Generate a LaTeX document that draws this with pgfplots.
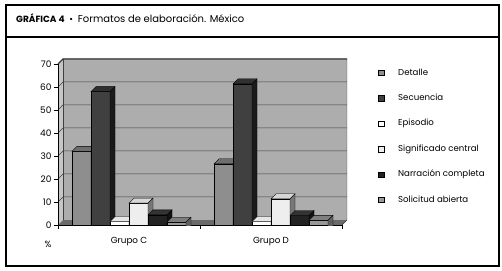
\documentclass[border=0pt]{standalone}
\usepackage{fontspec}
\setmainfont{Poppins}
\usepackage{pgfplots}
\pgfplotsset{compat=1.18}

\definecolor{wall}{HTML}{ADADAD}
\definecolor{lwall}{HTML}{C6C6C6}
\definecolor{floorc}{HTML}{6A6A6A}
\definecolor{gridc}{HTML}{404040}

\definecolor{detF}{HTML}{8E8E8E}\definecolor{detT}{HTML}{6E6E6E}\definecolor{detS}{HTML}{5A5A5A}
\definecolor{secF}{HTML}{404040}\definecolor{secT}{HTML}{303030}\definecolor{secS}{HTML}{1A1A1A}
\definecolor{epiF}{HTML}{FFFFFF}\definecolor{epiT}{HTML}{E6E6E6}\definecolor{epiS}{HTML}{9A9A9A}
\definecolor{sigF}{HTML}{EEEEEE}\definecolor{sigT}{HTML}{D6D6D6}\definecolor{sigS}{HTML}{777777}
\definecolor{narF}{HTML}{222222}\definecolor{narT}{HTML}{333333}\definecolor{narS}{HTML}{111111}
\definecolor{solF}{HTML}{999999}\definecolor{solT}{HTML}{7E7E7E}\definecolor{solS}{HTML}{606060}

\newcommand\cubemark[4]{%
\pgfdeclareplotmark{#1}{%
  \pgfsetlinewidth{0.35pt}\pgfsetstrokecolor{black}%
  \pgfsetfillcolor{#3}%
  \pgfpathmoveto{\pgfpoint{#2pt-9.5pt}{0pt}}%
  \pgfpathlineto{\pgfpoint{#2pt+9.5pt}{0pt}}%
  \pgfpathlineto{\pgfpoint{#2pt+14.5pt}{5pt}}%
  \pgfpathlineto{\pgfpoint{#2pt-4.5pt}{5pt}}%
  \pgfpathclose
  \pgfusepath{fill,stroke}%
  \pgfsetfillcolor{#4}%
  \pgfpathmoveto{\pgfpoint{#2pt+9.5pt}{0pt}}%
  \pgfpathlineto{\pgfpoint{#2pt+14.5pt}{5pt}}%
  \pgfpathlineto{\pgfpoint{#2pt+14.5pt}{-195pt}}%
  \pgfpathlineto{\pgfpoint{#2pt+9.5pt}{-200pt}}%
  \pgfpathclose
  \pgfusepath{fill,stroke}%
}}
\cubemark{cubeA}{-47.5}{detT}{detS}
\cubemark{cubeB}{-28.5}{secT}{secS}
\cubemark{cubeC}{-9.5}{epiT}{epiS}
\cubemark{cubeD}{9.5}{sigT}{sigS}
\cubemark{cubeE}{28.5}{narT}{narS}
\cubemark{cubeF}{47.5}{solT}{solS}

\pgfplotstableread{
x  det  sec  epi  sig  nar  sol
0  32   58   1.5  9.5  4.4  1.2
1  26.6 61.4 1.5  11.4 4.1  2
}\datatab

\pgfplotsset{
  legsq/.style={legend image code/.code={\draw[##1, draw=black, line width=0.4pt] (0pt,-2.5pt) rectangle (5.5pt,3pt);}},
  barA/.style={ybar, bar width=19pt, draw=black, line width=0.35pt, mark=none},
}

\begin{document}
\begin{tikzpicture}[x=1pt,y=1pt]
\useasboundingbox (0,0) rectangle (502,270);
% outer frame
\draw[line width=1.1pt] (6,4) rectangle (499,265);
\draw[line width=1.1pt] (6,233) -- (499,233);
\node[anchor=base west, inner sep=0pt] at (16,247)
  {\fontsize{9}{11}\selectfont\textbf{GRÁFICA 4}\ \ \textbullet\ \ \fontsize{10}{12}\selectfont Formatos de elaboración. México};
% 3D walls
\fill[lwall] (58,45) -- (63,50) -- (63,211) -- (58,206) -- cycle;
\fill[wall] (63,50) rectangle (347,211);
\fill[floorc] (58,45) -- (342,45) -- (347,50) -- (63,50) -- cycle;
\foreach \v in {10,20,...,70}{
  \draw[gridc, line width=0.5pt] (58,45+2.3*\v) -- (63,50+2.3*\v) -- (347,50+2.3*\v);
}
\draw[gridc, line width=1.2pt] (58,206) -- (63,211) -- (347,211);
\draw[gridc, line width=0.4pt] (63,50) -- (63,211);
\draw[gridc, line width=0.4pt] (342,45) -- (347,50) -- (347,211);
\begin{axis}[
  at={(58pt,45pt)}, anchor=south west,
  x=142pt, y=2.3pt,
  xmin=-0.5, xmax=1.5, ymin=0, ymax=70,
  axis x line*=bottom, axis y line*=left,
  axis line style={-, draw=black, line width=0.6pt},
  xtick={-0.5,0.5,1.5}, x tick label as interval, xticklabels={Grupo C, Grupo D},
  ytick={0,10,...,70},
  tick align=outside, major tick length=4pt,
  tick style={black, line width=0.5pt},
  /pgf/number format/assume math mode=true,
  ticklabel style={font=\fontsize{9}{10}\selectfont},
  yticklabel style={xshift=1pt},
  xticklabel style={yshift=-5pt, font=\fontsize{8.8}{10}\selectfont},
  clip marker paths=true,
  legend cell align=left,
  legend style={at={(1.127,0.969)}, anchor=north west, draw=none, fill=none,
    inner sep=0pt, row sep=17.4pt, column sep=0pt,
    font=\fontsize{8.6}{10}\selectfont,
    nodes={inner sep=0pt, text height=6pt, text depth=2pt},
    /tikz/every odd column/.append style={column sep=14pt}},
]
\addplot[barA, bar shift=-47.5pt, fill=detF, legsq] table[x=x,y=det]{\datatab};
\addlegendentry{Detalle}
\addplot[only marks, mark=cubeA, forget plot] table[x=x,y=det]{\datatab};
\addplot[barA, bar shift=-28.5pt, fill=secF, legsq] table[x=x,y=sec]{\datatab};
\addlegendentry{Secuencia}
\addplot[only marks, mark=cubeB, forget plot] table[x=x,y=sec]{\datatab};
\addplot[barA, bar shift=-9.5pt, fill=epiF, legsq] table[x=x,y=epi]{\datatab};
\addlegendentry{Episodio}
\addplot[only marks, mark=cubeC, forget plot] table[x=x,y=epi]{\datatab};
\addplot[barA, bar shift=9.5pt, fill=sigF, legsq] table[x=x,y=sig]{\datatab};
\addlegendentry{Significado central}
\addplot[only marks, mark=cubeD, forget plot] table[x=x,y=sig]{\datatab};
\addplot[barA, bar shift=28.5pt, fill=narF, legsq] table[x=x,y=nar]{\datatab};
\addlegendentry{Narración completa}
\addplot[only marks, mark=cubeE, forget plot] table[x=x,y=nar]{\datatab};
\addplot[barA, bar shift=47.5pt, fill=solF, legsq] table[x=x,y=sol]{\datatab};
\addlegendentry{Solicitud abierta}
\addplot[only marks, mark=cubeF, forget plot] table[x=x,y=sol]{\datatab};
\end{axis}
\node[anchor=base, inner sep=0pt, font=\fontsize{9}{10}\selectfont] at (48,23) {\%};
\end{tikzpicture}
\end{document}
